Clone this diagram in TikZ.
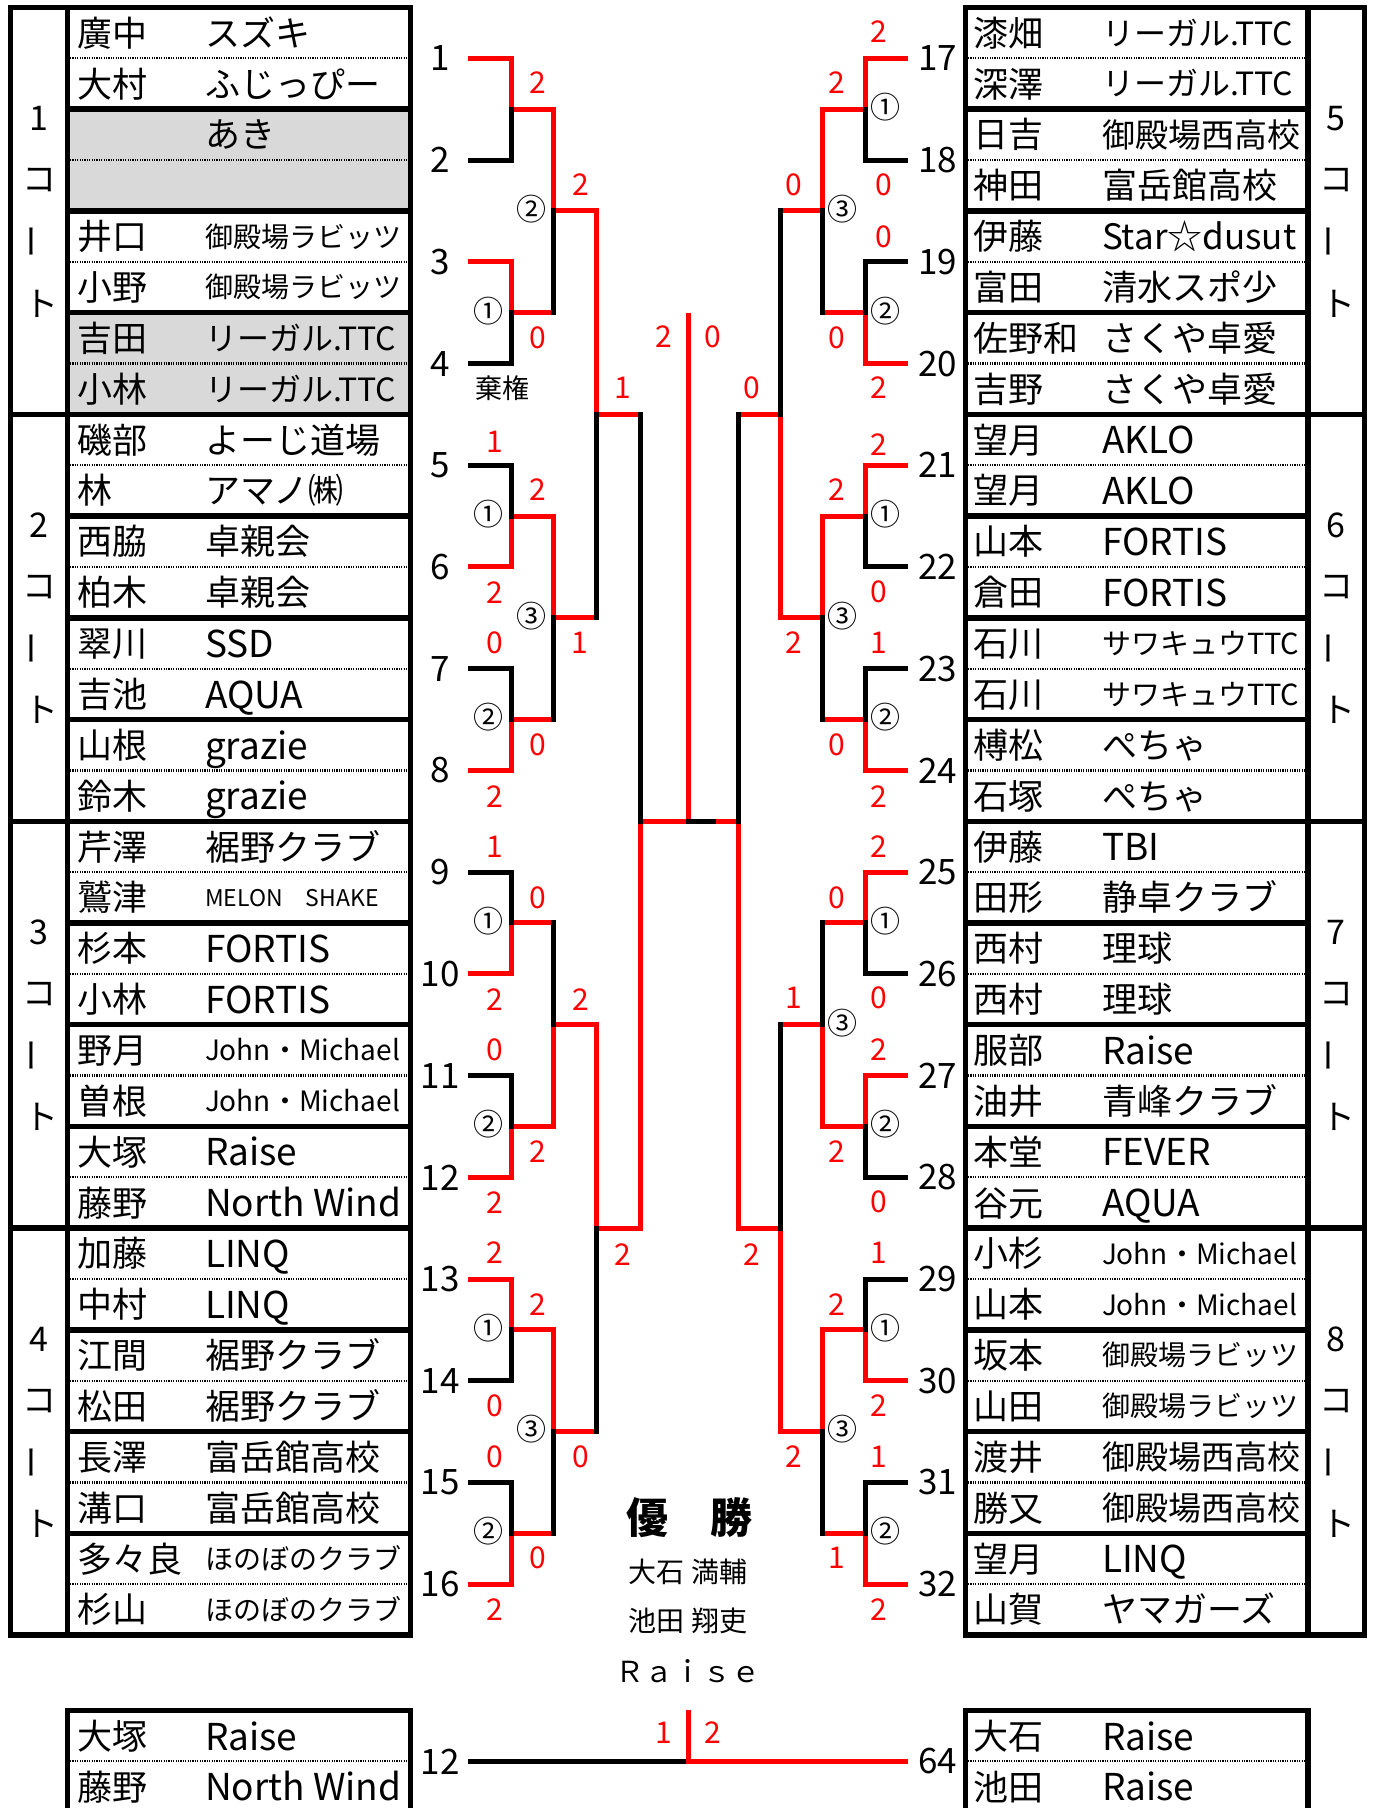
\documentclass[tikz,border=0pt]{standalone}
\usepackage{fontspec}
\setmainfont{Noto Sans CJK JP}
\newcommand\fs[1]{\fontsize{#1}{#1}\selectfont}
\newcounter{nd}
\def\py#1{(7.5+((#1)-0.5)*101.72)}
\newcommand\Hs[4]{\draw[#1] (#2,{\py{#4}}) -- (#3,{\py{#4}});}
\newcommand\Vs[4]{\draw[#1] (#2,{\py{#3}}) -- (#2,{\py{#4}});}
\newcommand\Pl[5]{\draw[#1] (#2,{\py{#4}}) -- (#3,{\py{#4}}) -- (#3,{\py{#5}});}
\newcommand\prw[9]{%
  \node[anchor=base west,font=\fs{35}] at (#1,{\py{#3-0.25}+13.3}) {#4};
  \node[anchor=base west,font=\fs{#5}] at (#2,{\py{#3-0.25}+0.38*#5}) {#6};
  \node[anchor=base west,font=\fs{35}] at (#1,{\py{#3+0.25}+13.3}) {#7};
  \node[anchor=base west,font=\fs{#8}] at (#2,{\py{#3+0.25}+0.38*#8}) {#9};}
\newcommand\scr[3]{\node[sc] at (#1,#2) {#3};}
\newcommand\cnum[3]{\node[circ] at (#1,{\py{#2}-2}) {#3};}
\tikzset{
  autoname/.code={\stepcounter{nd}\tikzset{name=nd\arabic{nd}}},
  every node/.style={autoname, inner sep=0pt, outer sep=0pt},
  win/.style={draw=red, line width=5pt, line cap=rect, line join=miter},
  los/.style={draw=black, line width=5pt, line cap=rect, line join=miter},
  brd/.style={draw=black, line width=5.5pt},
  dotln/.style={draw=black, line width=2.2pt, dash pattern=on 1.2pt off 1.2pt},
  sc/.style={text=red, font=\fs{30}},
  circ/.style={font=\fs{30}},
  numl/.style={font=\fs{34}},
  numb/.style={font=\fs{35}},
}
\begin{document}
\begin{tikzpicture}[x=1pt,y=-1pt]
\useasboundingbox (0,0) rectangle (1375,1808);
% ---------- gray fills ----------
\fill[gray!30] (67.5,{\py{1.5}}) rectangle (410.5,{\py{2.5}});
\fill[gray!30] (67.5,{\py{3.5}}) rectangle (410.5,{\py{4.5}});
% ---------- dotted separators ----------
\foreach \k in {1,...,16}{
  \draw[dotln] (67.5,{\py{\k}}) -- (410.5,{\py{\k}});
  \draw[dotln] (965.5,{\py{\k}}) -- (1308,{\py{\k}});
}
\draw[dotln] (67.5,{\py{17.742}}) -- (410.5,{\py{17.742}});
\draw[dotln] (965.5,{\py{17.742}}) -- (1308,{\py{17.742}});
% ---------- borders ----------
\foreach \k in {1,...,16}{
  \draw[brd] (67.5,{\py{\k-0.5}}) rectangle (410.5,{\py{\k+0.5}});
  \draw[brd] (965.5,{\py{\k-0.5}}) rectangle (1308,{\py{\k+0.5}});
}
\foreach \c in {0,...,3}{
  \draw[brd] (10.5,{\py{4*\c+0.5}}) rectangle (67.5,{\py{4*\c+4.5}});
  \draw[brd] (1308,{\py{4*\c+0.5}}) rectangle (1364.5,{\py{4*\c+4.5}});
}
\draw[brd] (67.5,{\py{17.242}}) rectangle (410.5,{\py{18.242}});
\draw[brd] (965.5,{\py{17.242}}) rectangle (1308,{\py{18.242}});
% ---------- court labels ----------
\foreach \c/\l/\r in {0/1/5,1/2/6,2/3/7,3/4/8}{
  \node[numl] at (39,{\py{4*\c+2.5}-92.5}) {\l};
  \node[numl] at (39,{\py{4*\c+2.5}-30.8}) {コ};
  \node[numl,rotate=90] at (37,{\py{4*\c+2.5}+30.8}) {ー};
  \node[numl] at (41,{\py{4*\c+2.5}+92.5}) {ト};
  \node[numl] at (1336,{\py{4*\c+2.5}-92.5}) {\r};
  \node[numl] at (1336,{\py{4*\c+2.5}-30.8}) {コ};
  \node[numl,rotate=90] at (1334,{\py{4*\c+2.5}+30.8}) {ー};
  \node[numl] at (1338,{\py{4*\c+2.5}+92.5}) {ト};
}
% ---------- names left ----------
\prw{77}{205}{1}{廣中}{35}{スズキ}{大村}{35}{ふじっぴー}
\node[anchor=base west,font=\fs{35}] at (205,{\py{1.75}+13.3}) {あき};
\prw{77}{205}{3}{井口}{28}{御殿場ラビッツ}{小野}{28}{御殿場ラビッツ}
\prw{77}{205}{4}{吉田}{32}{リーガル.TTC}{小林}{32}{リーガル.TTC}
\prw{77}{205}{5}{磯部}{35}{よーじ道場}{林}{35}{アマノ㈱}
\prw{77}{205}{6}{西脇}{35}{卓親会}{柏木}{35}{卓親会}
\prw{77}{205}{7}{翠川}{37}{SSD}{吉池}{37}{AQUA}
\prw{77}{205}{8}{山根}{37}{grazie}{鈴木}{37}{grazie}
\prw{77}{205}{9}{芹澤}{35}{裾野クラブ}{鷲津}{23}{MELON　SHAKE}
\prw{77}{205}{10}{杉本}{37}{FORTIS}{小林}{37}{FORTIS}
\prw{77}{205}{11}{野月}{28}{John・Michael}{曽根}{28}{John・Michael}
\prw{77}{205}{12}{大塚}{37}{Raise}{藤野}{37}{North Wind}
\prw{77}{205}{13}{加藤}{37}{LINQ}{中村}{37}{LINQ}
\prw{77}{205}{14}{江間}{35}{裾野クラブ}{松田}{35}{裾野クラブ}
\prw{77}{205}{15}{長澤}{35}{富岳館高校}{溝口}{35}{富岳館高校}
\prw{77}{205}{16}{多々良}{28}{ほのぼのクラブ}{杉山}{28}{ほのぼのクラブ}
\prw{77}{205}{17.742}{大塚}{37}{Raise}{藤野}{37}{North Wind}
% ---------- names right ----------
\prw{973}{1102}{1}{漆畑}{32}{リーガル.TTC}{深澤}{32}{リーガル.TTC}
\prw{973}{1102}{2}{日吉}{33}{御殿場西高校}{神田}{35}{富岳館高校}
\prw{973}{1102}{3}{伊藤}{35}{Star☆dusut}{富田}{35}{清水スポ少}
\prw{973}{1102}{4}{佐野和}{35}{さくや卓愛}{吉野}{35}{さくや卓愛}
\prw{973}{1102}{5}{望月}{37}{AKLO}{望月}{37}{AKLO}
\prw{973}{1102}{6}{山本}{37}{FORTIS}{倉田}{37}{FORTIS}
\prw{973}{1102}{7}{石川}{29}{サワキュウTTC}{石川}{29}{サワキュウTTC}
\prw{973}{1102}{8}{榑松}{35}{ぺちゃ}{石塚}{35}{ぺちゃ}
\prw{973}{1102}{9}{伊藤}{37}{TBI}{田形}{35}{静卓クラブ}
\prw{973}{1102}{10}{西村}{35}{理球}{西村}{35}{理球}
\prw{973}{1102}{11}{服部}{37}{Raise}{油井}{35}{青峰クラブ}
\prw{973}{1102}{12}{本堂}{37}{FEVER}{谷元}{37}{AQUA}
\prw{973}{1102}{13}{小杉}{28}{John・Michael}{山本}{28}{John・Michael}
\prw{973}{1102}{14}{坂本}{28}{御殿場ラビッツ}{山田}{28}{御殿場ラビッツ}
\prw{973}{1102}{15}{渡井}{33}{御殿場西高校}{勝又}{33}{御殿場西高校}
\prw{973}{1102}{16}{望月}{37}{LINQ}{山賀}{35}{ヤマガーズ}
\prw{973}{1102}{17.742}{大石}{37}{Raise}{池田}{37}{Raise}
% ---------- bracket numbers ----------
\foreach \k [evaluate=\k as \r using int(\k+16)] in {1,...,16}{
  \node[numb] at (440,{\py{\k}}) {\k};
  \node[numb] at (937.5,{\py{\k}}) {\r};
}
\node[numb] at (440,{\py{17.742}}) {12};
\node[numb] at (937.5,{\py{17.742}}) {64};
% ---------- bracket: winners (red) ----------
\Pl{win}{470.5}{511}{1}{1.5}
\Pl{win}{470.5}{511}{3}{3.5}
\Pl{win}{470.5}{511}{6}{5.5}
\Pl{win}{470.5}{511}{8}{7.5}
\Pl{win}{470.5}{511}{10}{9.5}
\Pl{win}{470.5}{511}{12}{11.5}
\Pl{win}{470.5}{511}{13}{13.5}
\Pl{win}{470.5}{511}{16}{15.5}
\foreach \m in {1.5,3.5,5.5,7.5,9.5,11.5,13.5,15.5}{
  \Hs{win}{511}{553.5}{\m}
  \Hs{win}{865.5}{822}{\m}
}
\Vs{win}{553.5}{1.5}{2.5}
\Vs{win}{553.5}{5.5}{6.5}
\Vs{win}{553.5}{10.5}{11.5}
\Vs{win}{553.5}{13.5}{14.5}
\foreach \m in {2.5,6.5,10.5,14.5}{
  \Hs{win}{553.5}{596}{\m}
  \Hs{win}{822}{780}{\m}
}
\Vs{win}{596}{2.5}{4.5}
\Vs{win}{596}{10.5}{12.5}
\Hs{win}{596}{640}{4.5}
\Hs{win}{596}{640}{12.5}
\Vs{win}{640}{8.5}{12.5}
\Hs{win}{640}{688}{8.5}
\Pl{win}{905.5}{865.5}{1}{1.5}
\Pl{win}{905.5}{865.5}{4}{3.5}
\Pl{win}{905.5}{865.5}{5}{5.5}
\Pl{win}{905.5}{865.5}{8}{7.5}
\Pl{win}{905.5}{865.5}{9}{9.5}
\Pl{win}{905.5}{865.5}{11}{11.5}
\Pl{win}{905.5}{865.5}{14}{13.5}
\Pl{win}{905.5}{865.5}{16}{15.5}
\Vs{win}{822}{1.5}{2.5}
\Vs{win}{822}{5.5}{6.5}
\Vs{win}{822}{10.5}{11.5}
\Vs{win}{822}{13.5}{14.5}
\Vs{win}{780}{4.5}{6.5}
\Vs{win}{780}{12.5}{14.5}
\Hs{win}{780}{738}{4.5}
\Hs{win}{780}{738}{12.5}
\Vs{win}{738}{8.5}{12.5}
\Hs{win}{713}{738}{8.5}
\draw[win] (688,315.5) -- (688,{\py{8.5}});
% ---------- bracket: losers (black) ----------
\Pl{los}{470.5}{511}{2}{1.5}
\Pl{los}{470.5}{511}{4}{3.5}
\Pl{los}{470.5}{511}{5}{5.5}
\Pl{los}{470.5}{511}{7}{7.5}
\Pl{los}{470.5}{511}{9}{9.5}
\Pl{los}{470.5}{511}{11}{11.5}
\Pl{los}{470.5}{511}{14}{13.5}
\Pl{los}{470.5}{511}{15}{15.5}
\Vs{los}{553.5}{2.5}{3.5}
\Vs{los}{553.5}{6.5}{7.5}
\Vs{los}{553.5}{9.5}{10.5}
\Vs{los}{553.5}{14.5}{15.5}
\Vs{los}{596}{4.5}{6.5}
\Vs{los}{596}{12.5}{14.5}
\Vs{los}{640}{4.5}{8.5}
\Pl{los}{905.5}{865.5}{2}{1.5}
\Pl{los}{905.5}{865.5}{3}{3.5}
\Pl{los}{905.5}{865.5}{6}{5.5}
\Pl{los}{905.5}{865.5}{7}{7.5}
\Pl{los}{905.5}{865.5}{10}{9.5}
\Pl{los}{905.5}{865.5}{12}{11.5}
\Pl{los}{905.5}{865.5}{13}{13.5}
\Pl{los}{905.5}{865.5}{15}{15.5}
\Vs{los}{822}{2.5}{3.5}
\Vs{los}{822}{6.5}{7.5}
\Vs{los}{822}{9.5}{10.5}
\Vs{los}{822}{14.5}{15.5}
\Vs{los}{780}{2.5}{4.5}
\Vs{los}{780}{10.5}{12.5}
\Vs{los}{738}{4.5}{8.5}
\Hs{los}{688}{713}{8.5}
% ---------- extra match at bottom ----------
\Hs{los}{470.5}{688}{17.742}
\Hs{win}{688}{905.5}{17.742}
\draw[win] (688,1712.5) -- (688,{\py{17.742}});
% ---------- scores ----------
\scr{538}{83}{2}\scr{538}{338}{0}\scr{581}{185}{2}\scr{623}{388}{1}
\scr{495}{442}{1}\scr{495}{593}{2}\scr{538}{490}{2}\scr{495}{643}{0}
\scr{495}{797}{2}\scr{538}{745}{0}\scr{580}{643}{1}
\scr{495}{847}{1}\scr{538}{898}{0}\scr{495}{1000}{2}\scr{495}{1050}{0}
\scr{495}{1203}{2}\scr{538}{1152}{2}\scr{581}{1000}{2}\scr{623}{1255}{2}
\scr{495}{1253}{2}\scr{538}{1305}{2}\scr{495}{1406}{0}\scr{495}{1457}{0}
\scr{495}{1610}{2}\scr{538}{1558}{0}\scr{581}{1457}{0}
\scr{879}{32}{2}\scr{884}{185}{0}\scr{837}{83}{2}\scr{884}{237}{0}
\scr{879}{388}{2}\scr{837}{338}{0}\scr{794}{185}{0}\scr{752}{388}{0}
\scr{879}{445}{2}\scr{879}{592}{0}\scr{837}{490}{2}\scr{879}{643}{1}
\scr{879}{797}{2}\scr{837}{745}{0}\scr{794}{643}{2}
\scr{879}{847}{2}\scr{879}{998}{0}\scr{837}{898}{0}\scr{879}{1050}{2}
\scr{879}{1202}{0}\scr{837}{1152}{2}\scr{794}{998}{1}\scr{752}{1255}{2}
\scr{879}{1253}{1}\scr{879}{1406}{2}\scr{837}{1305}{2}\scr{879}{1457}{1}
\scr{879}{1610}{2}\scr{837}{1558}{1}\scr{794}{1457}{2}
\scr{664}{337}{2}\scr{713}{337}{0}
\scr{664}{1733}{1}\scr{713}{1733}{2}
% ---------- match numbers ----------
\cnum{488}{3.5}{①}\cnum{531}{2.5}{②}
\cnum{488}{5.5}{①}\cnum{488}{7.5}{②}\cnum{531}{6.5}{③}
\cnum{488}{9.5}{①}\cnum{488}{11.5}{②}
\cnum{488}{13.5}{①}\cnum{488}{15.5}{②}\cnum{531}{14.5}{③}
\cnum{885}{1.5}{①}\cnum{885}{3.5}{②}\cnum{842}{2.5}{③}
\cnum{885}{5.5}{①}\cnum{885}{7.5}{②}\cnum{842}{6.5}{③}
\cnum{885}{9.5}{①}\cnum{885}{11.5}{②}\cnum{842}{10.5}{③}
\cnum{885}{13.5}{①}\cnum{885}{15.5}{②}\cnum{842}{14.5}{③}
\node[font=\fs{27}] at (502,388) {棄権};
% ---------- champion ----------
\node[font=\fs{42}\bfseries] at (689,1518) {優　勝};
\node[font=\fs{28}] at (688,1572) {大石 満輔};
\node[font=\fs{28}] at (688,1621) {池田 翔吏};
\node[font=\fs{29}] at (688,1671) {Ｒａｉｓｅ};
\end{tikzpicture}
\end{document}
